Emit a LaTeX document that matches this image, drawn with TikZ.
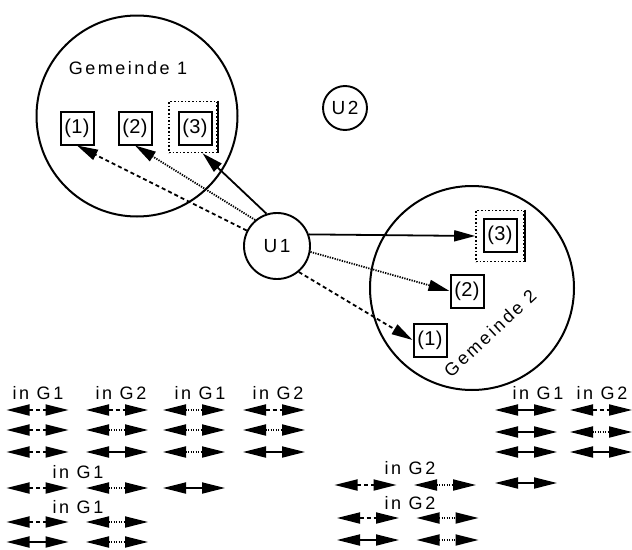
\documentclass[tikz,border=0pt]{standalone}
\usepackage{fontspec}
\setmainfont{Liberation Sans}[LetterSpace=14]
\usetikzlibrary{arrows.meta}
\begin{document}
\begin{tikzpicture}[x=1pt,y=-1pt,
 region/.style={circle, draw, line width=2pt, inner sep=0pt},
 unitc/.style={circle, draw, line width=1.9pt, inner sep=0pt, font=\fontsize{19}{21}\selectfont},
 boxn/.style={rectangle, draw, line width=2pt, minimum width=33pt, minimum height=33pt, inner sep=0pt, font=\fontsize{20}{22}\selectfont\addfontfeature{LetterSpace=2}},
 outerbox/.style={rectangle, draw, dotted, line width=1.6pt, minimum width=48pt, minimum height=51pt, inner sep=0pt},
 lab/.style={font=\fontsize{18}{20}\selectfont, inner sep=0pt},
 conn/.style={line width=1.8pt, -{Triangle[length=21pt,width=11pt]}},
 leg/.style={line width=1.8pt, {Triangle[length=23pt,width=11pt]}-{Triangle[length=23pt,width=11pt]}},
 dsh/.style={dash pattern=on 4pt off 3pt},
 dtt/.style={dash pattern=on 1.3pt off 1.2pt},
 sld/.style={solid},
]
\useasboundingbox (0,0) rectangle (632,549);
% regions
\node[region, minimum size=201pt] (g1) at (137,116) {};
\node[lab] (g1lab) at (128,68) {Gemeinde 1};
\node[region, minimum size=204pt] (g2) at (472,288) {};
\node[lab, rotate=43] (g2lab) at (490,333) {Gemeinde 2};
% units
\node[unitc, minimum size=66pt] (u1) at (277,246) {U1};
\node[unitc, minimum size=44pt] (u2) at (345,108) {U2};
% boxes in G1
\node[boxn] (g1b1) at (77,128) {(1)};
\node[boxn] (g1b2) at (135,128) {(2)};
\node[outerbox] (g1o) at (193,127) {};
\node[boxn] (g1b3) at (195,128) {(3)};
\draw[line width=2pt] (g1o.north east) -- (g1o.south east);
% boxes in G2
\node[outerbox] (g2o) at (500,236) {};
\node[boxn] (g2b3) at (500,235) {(3)};
\draw[line width=2pt] (g2o.north east) -- (g2o.south east);
\node[boxn] (g2b2) at (467,291) {(2)};
\node[boxn] (g2b1) at (430,340) {(1)};
% connectors
\draw[conn, dsh] (u1.153) -- (g1b1.south);
\draw[conn, dtt] (u1.130) -- (g1b2.south);
\draw[conn] (u1.108) -- (g1o.-70);
\draw[conn] (u1.20) -- (g2o.west);
\draw[conn, dtt] (u1.-10) -- (g2b2.west);
\draw[conn, dsh] (u1.-50) -- (g2b1.west);
% legend labels
\node[lab] (l1) at (38,393) {in G1};
\node[lab] (l2) at (121,393) {in G2};
\node[lab] (l3) at (200,393) {in G1};
\node[lab] (l4) at (278,393) {in G2};
\node[lab] (l5) at (78,472) {in G1};
\node[lab] (l6) at (78,507) {in G1};
\node[lab] (l7) at (538,393) {in G1};
\node[lab] (l8) at (602,393) {in G2};
\node[lab] (l9) at (410,468) {in G2};
\node[lab] (l10) at (410,503) {in G2};
% legend arrows
\foreach \x/\y/\s in {
 37.5/410/dsh, 117/410/dsh, 194/410/dtt, 274/410/dsh,
 37.5/430/dsh, 117/430/dtt, 194/430/dtt, 274/430/dtt,
 37.5/452/dsh, 117/452/sld, 194/452/dtt, 274/452/sld,
 37.5/488/dsh, 117/488/dtt, 194/488/sld,
 37.5/522/dsh, 117/522/dtt,
 37.5/542/sld, 117/542/dtt,
 526/410/sld, 601/410/dsh,
 526/432/sld, 601/432/dtt,
 526/452/sld, 601/452/sld,
 526/483/sld,
 365.5/485/dsh, 445/485/dtt,
 368/518/dsh, 447.5/518/dtt,
 368/540/sld, 447.5/540/dtt}
 \draw[leg,\s] ({\x-31},\y) -- ({\x+31},\y);
\end{tikzpicture}
\end{document}
